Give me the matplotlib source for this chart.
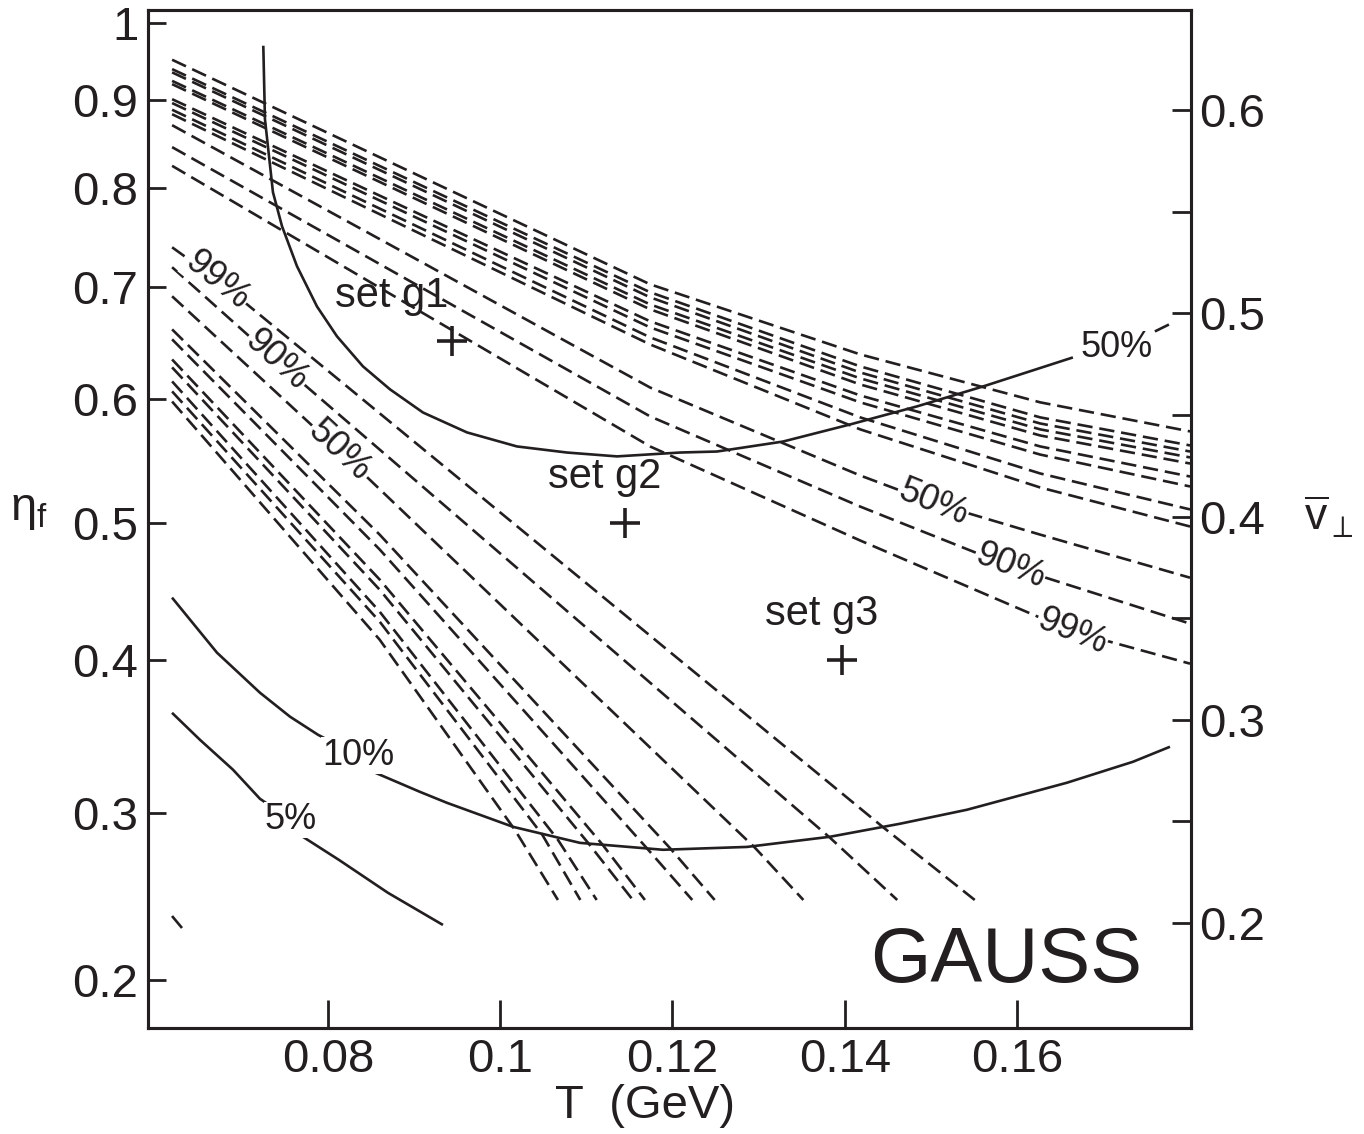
import matplotlib.pyplot as plt
import numpy as np

plt.rcParams['font.family'] = ['Liberation Sans', 'DejaVu Sans']
plt.rcParams['mathtext.fontset'] = 'custom'
plt.rcParams['mathtext.rm'] = 'Liberation Sans'
plt.rcParams['mathtext.it'] = 'Liberation Sans'

INK = '#231f20'


# eta_f -> mean transverse velocity, fitted to the two vertical scales
def eta_to_v(eta):
    eta = np.asarray(eta, dtype=float)
    return -0.016954 + 1.02832 * eta - 0.43319 * eta**2 + 0.06472 * eta**3


# ---- axis ticks ----
x_ticks = [0.08, 0.10, 0.12, 0.14, 0.16]
x_labels = ["0.08", "0.1", "0.12", "0.14", "0.16"]
eta_ticks = [0.2, 0.3, 0.4, 0.5, 0.6, 0.7, 0.8, 0.9, 1.0]
eta_labels = ["0.2", "0.3", "0.4", "0.5", "0.6", "0.7", "0.8", "0.9", "1"]
v_ticks = [0.2, 0.25, 0.3, 0.35, 0.4, 0.45, 0.5, 0.55, 0.6]
v_labels = ["0.2", "", "0.3", "", "0.4", "", "0.5", "", "0.6"]

# ---- solid contours (T in GeV, mean v_perp) ----
c50_T = [0.07249, 0.07268, 0.07361, 0.07466, 0.07640, 0.07872, 0.08104, 0.08406,
         0.08720, 0.09103, 0.09614, 0.10194, 0.10775, 0.11356, 0.12087, 0.12517,
         0.13283, 0.14061, 0.14839, 0.15605, 0.16650]
c50_v = [0.6317, 0.5956, 0.5596, 0.5429, 0.5232, 0.5034, 0.4887, 0.4739,
         0.4626, 0.4512, 0.4414, 0.4345, 0.4315, 0.4296, 0.4315, 0.4320,
         0.4369, 0.4453, 0.4542, 0.4640, 0.4783]
c50_tail_T = [0.17602, 0.17765]
c50_tail_v = [0.4911, 0.4945]

c10_T = [0.06189, 0.06711, 0.07210, 0.07559, 0.07884, 0.08348, 0.08522, 0.09068,
         0.09382, 0.10148, 0.10926, 0.11890, 0.12865, 0.13829, 0.14641, 0.15420,
         0.16581, 0.17347, 0.17777]
c10_v = [0.3601, 0.3330, 0.3133, 0.3015, 0.2926, 0.2823, 0.2744, 0.2645,
         0.2591, 0.2473, 0.2394, 0.2360, 0.2374, 0.2424, 0.2488, 0.2557,
         0.2690, 0.2793, 0.2867]

c5_T = [0.06189, 0.06514, 0.06897, 0.07210, 0.07570, 0.07675, 0.08128, 0.08697, 0.09335]
c5_v = [0.3034, 0.2901, 0.2754, 0.2611, 0.2507, 0.2433, 0.2310, 0.2148, 0.1990]

c1_T = [0.06189, 0.06305]
c1_v = [0.2034, 0.1975]

# ---- dashed contours, upper family ----
up_T = [0.0619, 0.1174, 0.1418, 0.1627, 0.1801]
up_v = [
    [0.6248, 0.5143, 0.4798, 0.4562, 0.4419],
    [0.6202, 0.5104, 0.4739, 0.4488, 0.4350],
    [0.6186, 0.5079, 0.4709, 0.4458, 0.4320],
    [0.6144, 0.5044, 0.4680, 0.4429, 0.4291],
    [0.6128, 0.5020, 0.4650, 0.4399, 0.4261],
    [0.6054, 0.4961, 0.4596, 0.4345, 0.4197],
    [0.6035, 0.4931, 0.4562, 0.4305, 0.4148],
    [0.6002, 0.4882, 0.4488, 0.4212, 0.4035],
    [0.5980, 0.4847, 0.4429, 0.4143, 0.3951],
]
up50_T = [0.0619, 0.1174, 0.1418, 0.1503, 0.1627, 0.1801]
up50_v = [0.5926, 0.4635, 0.4202, 0.4067, 0.3911, 0.3699]
up90_T = [0.0619, 0.1174, 0.1418, 0.1592, 0.1801]
up90_v = [0.5818, 0.4493, 0.4049, 0.3755, 0.3473]
up99_T = [0.0619, 0.1174, 0.1418, 0.1664, 0.1801]
up99_v = [0.5726, 0.4345, 0.3882, 0.3435, 0.3276]

# ---- dashed contours, lower family ----
lo_T = [
    [0.0619, 0.0672, 0.1444, 0.1551],
    [0.0619, 0.0740, 0.1383, 0.1461],
    [0.0619, 0.0813, 0.1296, 0.1352],
    [0.0619, 0.0860, 0.1197, 0.1249],
    [0.0619, 0.0860, 0.1170, 0.1223],
    [0.0619, 0.0860, 0.1119, 0.1168],
    [0.0619, 0.0860, 0.1102, 0.1154],
    [0.0619, 0.0860, 0.1067, 0.1112],
    [0.0619, 0.0860, 0.1049, 0.1093],
    [0.0619, 0.0860, 0.1017, 0.1067],
]
lo_v = [
    [0.5325, 0.5163, 0.2473, 0.2113],
    [0.5227, 0.4768, 0.2419, 0.2113],
    [0.5084, 0.4325, 0.2369, 0.2113],
    [0.4921, 0.3911, 0.2369, 0.2113],
    [0.4872, 0.3838, 0.2369, 0.2113],
    [0.4773, 0.3690, 0.2384, 0.2113],
    [0.4734, 0.3640, 0.2394, 0.2113],
    [0.4665, 0.3532, 0.2409, 0.2113],
    [0.4616, 0.3483, 0.2433, 0.2113],
    [0.4566, 0.3394, 0.2458, 0.2113],
]

# ---- parameter sets ----
set_names = ["set g1", "set g2", "set g3"]
set_T = [0.0944, 0.1145, 0.1397]
set_eta = [0.65, 0.50, 0.40]
set_text_T = [0.08743, 0.11216, 0.13730]
set_text_v = [0.5084, 0.4194, 0.3522]

fig = plt.figure(figsize=(13.64, 11.34), dpi=100)
ax = fig.add_axes([0.1085, 0.0935, 0.7644, 0.8977])

solid = dict(color=INK, lw=1.9, solid_capstyle='butt')
dashed = dict(color=INK, lw=1.9, linestyle=(0, (5.8, 2.6)), dash_capstyle='butt')

for T, v in zip([c50_T, c10_T, c5_T, c1_T], [c50_v, c10_v, c5_v, c1_v]):
    ax.plot(T, v, **solid)
ax.plot(c50_tail_T, c50_tail_v, **solid)

for v in up_v:
    ax.plot(up_T, v, **dashed)
for T, v in zip([up50_T, up90_T, up99_T], [up50_v, up90_v, up99_v]):
    ax.plot(T, v, **dashed)
for T, v in zip(lo_T, lo_v):
    ax.plot(T, v, **dashed)

ax.plot(set_T, eta_to_v(set_eta), linestyle='none', marker='+',
        markersize=22, mew=2.6, color=INK)
for name, T, v in zip(set_names, set_text_T, set_text_v):
    ax.text(T, v, name, fontsize=30, color=INK, ha='center', va='center')

box = dict(facecolor='white', edgecolor='none', pad=0.5)
lab = dict(fontsize=26, color=INK, ha='center', va='center', bbox=box,
           rotation_mode='anchor')
ax.text(0.08348, 0.2823, "10%", **lab)
ax.text(0.07570, 0.2507, "5%", **lab)
ax.text(0.17161, 0.4830, "50%", **lab)
ax.text(0.06717, 0.5163, "99%", rotation=-39, **lab)
ax.text(0.07396, 0.4768, "90%", rotation=-42, **lab)
ax.text(0.08128, 0.4325, "50%", rotation=-43, **lab)
ax.text(0.15028, 0.4067, "50%", rotation=-22, **lab)
ax.text(0.15919, 0.3755, "90%", rotation=-21, **lab)
ax.text(0.16642, 0.3435, "99%", rotation=-22, **lab)

ax.text(0.15872, 0.1808, "GAUSS", fontsize=56, color=INK, ha='center', va='center')

ax.set_xlim(0.0591, 0.18017)
ax.set_ylim(0.1483, 0.6493)
ax.set_xticks(x_ticks)
ax.set_xticklabels(x_labels)
ax.set_yticks(eta_to_v(eta_ticks))
ax.set_yticklabels(eta_labels)
ax.tick_params(axis='x', direction='in', length=20, width=2, pad=7,
               labelsize=34, colors=INK, top=False)
ax.tick_params(axis='y', direction='in', length=13, width=2, pad=7,
               labelsize=34, colors=INK, right=False)

ax2 = ax.twinx()
ax2.set_ylim(ax.get_ylim())
ax2.set_yticks(v_ticks)
ax2.set_yticklabels(v_labels)
ax2.tick_params(axis='y', direction='in', length=14, width=2, pad=6,
                labelsize=34, colors=INK)

for a in (ax, ax2):
    for s in a.spines.values():
        s.set_linewidth(2.2)
        s.set_color(INK)

ax.text(-0.114, 0.509, r'$\eta_\mathrm{f}$', transform=ax.transAxes,
        fontsize=34, color=INK, ha='center', va='center')
ax.text(1.133, 0.502, r'$\overline{\mathrm{v}}_{\perp}$', transform=ax.transAxes,
        fontsize=32, color=INK, ha='center', va='center')
ax.text(0.4767, -0.0767, "T  (GeV)", transform=ax.transAxes,
        fontsize=34, color=INK, ha='center', va='center')

fig.savefig('out.png', dpi=100)
